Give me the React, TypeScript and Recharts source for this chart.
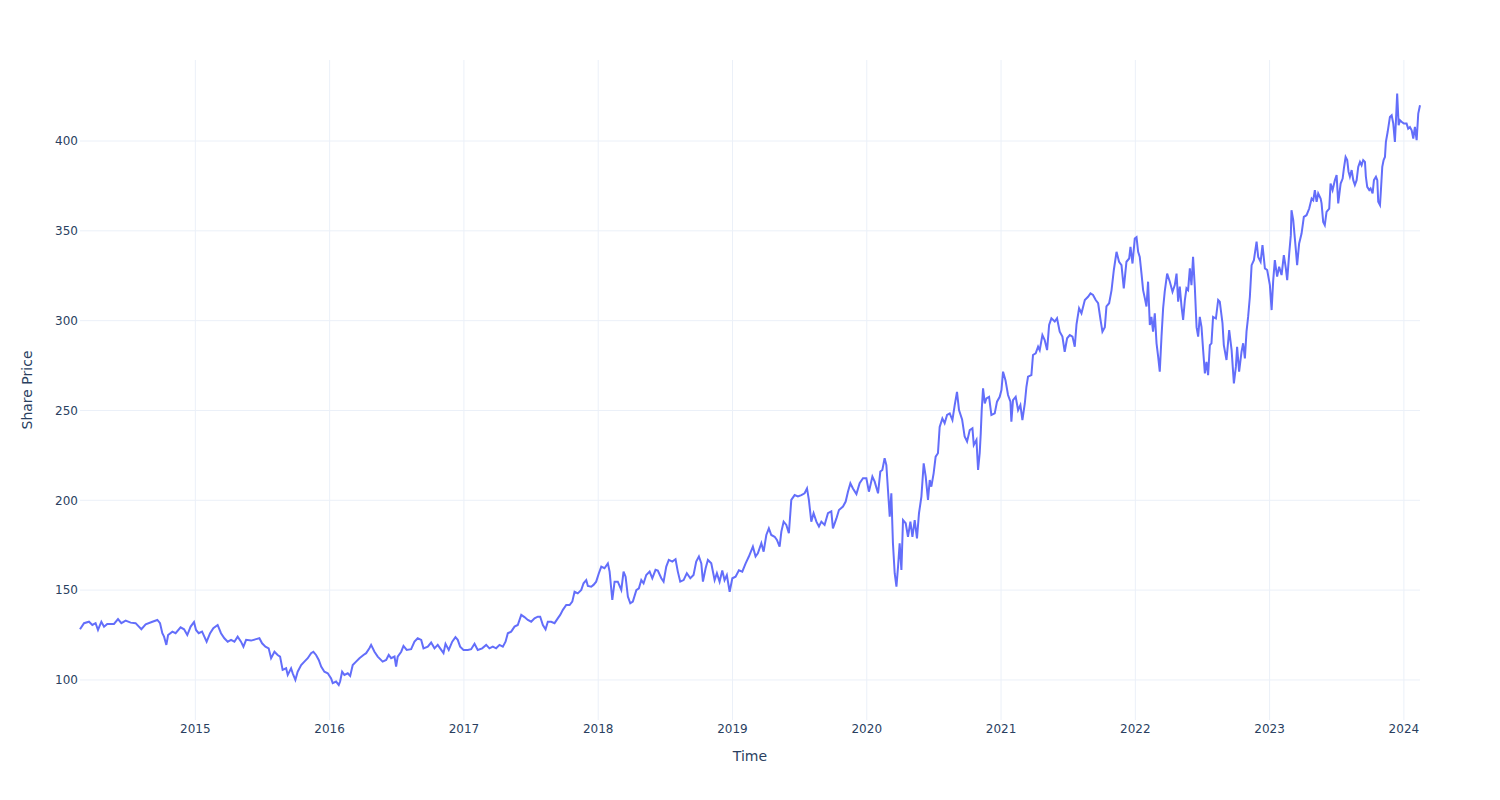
import React from 'react';
import { LineChart, Line, XAxis, YAxis, CartesianGrid, Label } from 'recharts';

// time as decimal year
const timeYears = [
  2014.141, 2014.171, 2014.208, 2014.233, 2014.257, 2014.275, 2014.3, 2014.32, 2014.344, 2014.394,
  2014.424, 2014.449, 2014.481, 2014.518, 2014.555, 2014.598, 2014.63, 2014.68, 2014.717, 2014.737,
  2014.754, 2014.767, 2014.784, 2014.797, 2014.829, 2014.853, 2014.89, 2014.916, 2014.94, 2014.965,
  2014.99, 2015.005, 2015.025, 2015.05, 2015.067, 2015.084, 2015.11, 2015.134, 2015.166, 2015.191,
  2015.216, 2015.241, 2015.266, 2015.291, 2015.315, 2015.34, 2015.358, 2015.378, 2015.415, 2015.452,
  2015.477, 2015.497, 2015.522, 2015.546, 2015.564, 2015.589, 2015.613, 2015.631, 2015.65, 2015.676,
  2015.688, 2015.713, 2015.725, 2015.745, 2015.762, 2015.788, 2015.812, 2015.837, 2015.862, 2015.879,
  2015.899, 2015.919, 2015.937, 2015.961, 2015.986, 2016.011, 2016.023, 2016.048, 2016.068, 2016.078,
  2016.093, 2016.11, 2016.135, 2016.153, 2016.172, 2016.197, 2016.222, 2016.252, 2016.272, 2016.296,
  2016.309, 2016.334, 2016.358, 2016.395, 2016.421, 2016.44, 2016.458, 2016.483, 2016.495, 2016.507,
  2016.533, 2016.55, 2016.574, 2016.607, 2016.632, 2016.656, 2016.682, 2016.699, 2016.731, 2016.756,
  2016.781, 2016.805, 2016.831, 2016.848, 2016.863, 2016.887, 2016.913, 2016.937, 2016.954, 2016.972,
  2016.997, 2017.029, 2017.054, 2017.079, 2017.103, 2017.136, 2017.166, 2017.19, 2017.215, 2017.24,
  2017.265, 2017.29, 2017.31, 2017.327, 2017.352, 2017.377, 2017.401, 2017.427, 2017.451, 2017.476,
  2017.501, 2017.526, 2017.55, 2017.568, 2017.588, 2017.608, 2017.625, 2017.65, 2017.675, 2017.699,
  2017.717, 2017.737, 2017.762, 2017.787, 2017.807, 2017.824, 2017.848, 2017.874, 2017.891, 2017.911,
  2017.923, 2017.948, 2017.965, 2017.985, 2018.005, 2018.023, 2018.047, 2018.072, 2018.085, 2018.105,
  2018.122, 2018.146, 2018.172, 2018.189, 2018.204, 2018.221, 2018.239, 2018.258, 2018.284, 2018.303,
  2018.321, 2018.338, 2018.358, 2018.383, 2018.403, 2018.427, 2018.444, 2018.47, 2018.487, 2018.507,
  2018.526, 2018.552, 2018.576, 2018.593, 2018.611, 2018.636, 2018.66, 2018.686, 2018.71, 2018.73,
  2018.75, 2018.768, 2018.78, 2018.8, 2018.817, 2018.842, 2018.867, 2018.884, 2018.904, 2018.924,
  2018.941, 2018.958, 2018.979, 2018.999, 2019.023, 2019.048, 2019.073, 2019.098, 2019.122, 2019.152,
  2019.172, 2019.189, 2019.215, 2019.232, 2019.252, 2019.271, 2019.289, 2019.314, 2019.331, 2019.351,
  2019.364, 2019.381, 2019.401, 2019.42, 2019.438, 2019.463, 2019.487, 2019.513, 2019.537, 2019.555,
  2019.569, 2019.587, 2019.604, 2019.625, 2019.644, 2019.662, 2019.686, 2019.711, 2019.736, 2019.748,
  2019.774, 2019.793, 2019.823, 2019.843, 2019.86, 2019.878, 2019.897, 2019.923, 2019.947, 2019.972,
  2019.997, 2020.016, 2020.042, 2020.059, 2020.084, 2020.101, 2020.116, 2020.133, 2020.146, 2020.158,
  2020.171, 2020.183, 2020.195, 2020.208, 2020.221, 2020.233, 2020.245, 2020.258, 2020.27, 2020.29,
  2020.307, 2020.325, 2020.34, 2020.357, 2020.374, 2020.389, 2020.407, 2020.424, 2020.439, 2020.456,
  2020.469, 2020.481, 2020.498, 2020.513, 2020.53, 2020.543, 2020.563, 2020.58, 2020.598, 2020.618,
  2020.638, 2020.655, 2020.672, 2020.687, 2020.71, 2020.729, 2020.747, 2020.767, 2020.787, 2020.797,
  2020.817, 2020.829, 2020.841, 2020.849, 2020.856, 2020.866, 2020.879, 2020.891, 2020.911, 2020.928,
  2020.953, 2020.97, 2020.99, 2021.003, 2021.015, 2021.033, 2021.052, 2021.07, 2021.077, 2021.089,
  2021.109, 2021.127, 2021.144, 2021.159, 2021.177, 2021.189, 2021.201, 2021.226, 2021.238, 2021.258,
  2021.276, 2021.288, 2021.308, 2021.325, 2021.343, 2021.358, 2021.375, 2021.4, 2021.417, 2021.437,
  2021.457, 2021.474, 2021.492, 2021.512, 2021.532, 2021.549, 2021.562, 2021.581, 2021.599, 2021.624,
  2021.648, 2021.666, 2021.685, 2021.705, 2021.723, 2021.741, 2021.755, 2021.773, 2021.785, 2021.805,
  2021.823, 2021.84, 2021.86, 2021.879, 2021.897, 2021.914, 2021.934, 2021.954, 2021.964, 2021.979,
  2021.996, 2022.009, 2022.021, 2022.033, 2022.046, 2022.058, 2022.071, 2022.083, 2022.095, 2022.108,
  2022.12, 2022.132, 2022.145, 2022.158, 2022.17, 2022.182, 2022.195, 2022.207, 2022.219, 2022.237,
  2022.257, 2022.277, 2022.294, 2022.307, 2022.319, 2022.331, 2022.344, 2022.356, 2022.369, 2022.381,
  2022.393, 2022.406, 2022.418, 2022.43, 2022.443, 2022.456, 2022.468, 2022.48, 2022.493, 2022.505,
  2022.518, 2022.53, 2022.542, 2022.555, 2022.567, 2022.579, 2022.6, 2022.617, 2022.629, 2022.649,
  2022.659, 2022.679, 2022.699, 2022.717, 2022.734, 2022.749, 2022.758, 2022.773, 2022.791, 2022.803,
  2022.816, 2022.828, 2022.84, 2022.853, 2022.866, 2022.883, 2022.903, 2022.915, 2022.933, 2022.947,
  2022.965, 2022.982, 2023.002, 2023.015, 2023.027, 2023.039, 2023.056, 2023.071, 2023.089, 2023.106,
  2023.121, 2023.131, 2023.146, 2023.158, 2023.163, 2023.176, 2023.196, 2023.205, 2023.22, 2023.238,
  2023.255, 2023.275, 2023.295, 2023.313, 2023.325, 2023.337, 2023.35, 2023.362, 2023.38, 2023.387,
  2023.399, 2023.411, 2023.424, 2023.444, 2023.454, 2023.469, 2023.486, 2023.499, 2023.511, 2023.529,
  2023.544, 2023.553, 2023.566, 2023.578, 2023.588, 2023.598, 2023.611, 2023.623, 2023.635, 2023.648,
  2023.66, 2023.673, 2023.685, 2023.697, 2023.71, 2023.717, 2023.727, 2023.742, 2023.752, 2023.767,
  2023.777, 2023.792, 2023.802, 2023.809, 2023.822, 2023.829, 2023.839, 2023.849, 2023.859, 2023.866,
  2023.879, 2023.896, 2023.909, 2023.921, 2023.933, 2023.941, 2023.95, 2023.961, 2023.97, 2023.985,
  2024.0, 2024.02, 2024.032, 2024.045, 2024.058, 2024.07, 2024.082, 2024.095, 2024.107, 2024.12,
];

const sharePrice = [
  128.2, 131.6, 132.4, 130.6, 131.6, 127.8, 132.4, 129.6, 131.2, 131.2,
  133.9, 131.6, 133.0, 131.9, 131.6, 128.2, 130.9, 132.4, 133.4, 131.6,
  126.0, 124.1, 119.5, 125.0, 126.9, 126.0, 129.3, 128.2, 125.0, 129.7,
  132.2, 127.8, 126.0, 126.9, 124.1, 121.3, 126.0, 128.8, 130.6, 126.0,
  123.2, 121.3, 122.3, 121.3, 124.1, 121.3, 118.5, 122.3, 121.9, 122.7,
  123.2, 120.4, 118.5, 117.6, 112.1, 115.7, 113.9, 113.0, 105.6, 106.5,
  102.8, 106.5, 103.7, 100.0, 104.6, 108.3, 110.2, 112.1, 114.9, 115.7,
  113.9, 111.1, 107.4, 104.6, 103.7, 100.9, 98.2, 99.1, 97.2, 99.1,
  104.6, 102.8, 103.7, 102.2, 108.3, 110.2, 112.1, 113.9, 114.9, 117.6,
  119.5, 115.7, 113.0, 110.2, 111.1, 113.9, 112.1, 113.0, 107.4, 113.0,
  115.7, 118.9, 116.7, 117.1, 121.3, 123.2, 122.3, 117.6, 118.5, 120.8,
  117.6, 119.5, 116.7, 114.9, 120.1, 116.7, 121.3, 123.8, 122.3, 118.5,
  116.7, 116.7, 117.1, 120.1, 116.7, 117.6, 119.5, 117.6, 118.5, 117.6,
  119.5, 118.5, 121.3, 126.0, 126.9, 129.7, 130.6, 136.2, 135.0, 133.4,
  132.4, 134.3, 135.2, 135.2, 130.6, 128.2, 132.4, 132.4, 131.6, 134.3,
  136.2, 139.0, 141.7, 141.7, 143.6, 149.1, 148.2, 150.1, 153.8, 155.6,
  152.3, 151.9, 152.9, 154.7, 159.4, 163.1, 162.2, 164.9, 160.3, 144.5,
  154.7, 154.7, 150.1, 160.3, 157.5, 146.4, 142.7, 143.6, 150.0, 151.0,
  155.6, 153.8, 158.4, 160.3, 156.6, 161.3, 160.9, 156.6, 154.7, 163.1,
  166.8, 165.9, 167.2, 160.3, 154.7, 155.6, 159.4, 156.6, 158.4, 165.9,
  168.7, 164.9, 154.7, 162.2, 166.8, 164.9, 155.6, 159.4, 154.7, 160.9,
  155.6, 158.4, 149.1, 156.6, 157.5, 161.0, 160.3, 164.9, 168.7, 174.2,
  168.7, 170.5, 176.1, 171.4, 180.7, 184.4, 180.7, 179.7, 177.9, 174.2,
  182.6, 188.1, 186.3, 181.7, 200.2, 202.9, 202.1, 202.9, 203.9, 206.6,
  200.2, 188.1, 192.8, 188.1, 185.4, 188.1, 186.3, 192.8, 193.8, 184.4,
  189.9, 194.6, 196.5, 199.3, 204.8, 209.5, 206.6, 203.5, 209.5, 212.3,
  212.3, 204.8, 213.2, 210.4, 203.9, 216.0, 216.9, 223.4, 219.6, 205.7,
  190.9, 203.9, 176.1, 159.4, 151.9, 163.1, 176.1, 161.2, 189.0, 187.2,
  179.7, 188.1, 179.7, 189.0, 178.8, 192.8, 202.1, 220.6, 213.2, 200.2,
  211.3, 207.6, 215.0, 224.3, 226.2, 240.9, 245.6, 242.9, 247.5, 248.4,
  244.7, 253.0, 260.4, 250.2, 245.0, 235.5, 232.7, 239.1, 240.1, 230.8,
  233.6, 216.9, 226.2, 237.4, 250.2, 262.3, 253.9, 256.7, 257.6, 247.5,
  248.4, 254.9, 257.6, 261.4, 271.6, 266.9, 258.6, 254.9, 243.8, 255.8,
  257.6, 250.2, 253.0, 244.7, 253.9, 263.2, 268.8, 269.7, 280.9, 281.8,
  285.5, 283.6, 292.0, 289.2, 283.6, 297.6, 301.3, 299.5, 301.3, 293.9,
  291.1, 282.7, 290.2, 292.0, 291.1, 285.5, 298.0, 306.9, 304.1, 311.5,
  313.3, 315.2, 314.3, 311.5, 309.7, 300.4, 293.9, 296.4, 307.9, 309.7,
  317.0, 328.2, 338.3, 332.8, 330.9, 318.0, 332.8, 334.6, 341.1, 331.8,
  345.7, 346.5, 338.3, 335.5, 326.2, 317.0, 312.4, 307.9, 321.7, 297.6,
  302.1, 293.9, 304.1, 287.4, 280.0, 271.6, 291.1, 306.9, 316.1, 326.2,
  321.7, 316.1, 319.8, 326.2, 310.6, 318.9, 308.0, 300.4, 311.5, 318.0,
  317.0, 329.1, 319.8, 335.5, 318.9, 296.4, 291.1, 302.1, 296.4, 283.6,
  270.6, 277.1, 269.7, 286.4, 287.4, 302.1, 301.2, 311.5, 310.6, 298.7,
  286.4, 278.1, 294.8, 283.6, 265.1, 274.4, 285.5, 271.6, 282.7, 287.4,
  279.0, 293.9, 302.1, 313.3, 330.9, 333.7, 344.0, 335.5, 332.8, 342.1,
  329.1, 328.2, 319.8, 305.9, 322.6, 333.7, 324.5, 330.0, 325.4, 336.5,
  329.1, 322.6, 337.4, 347.6, 361.5, 356.0, 339.0, 330.9, 343.0, 348.5,
  357.8, 358.7, 362.4, 368.0, 367.0, 372.7, 366.2, 370.8, 368.0, 365.3,
  355.0, 353.2, 360.6, 362.4, 376.3, 372.7, 378.2, 381.0, 365.3, 376.3,
  379.1, 384.6, 391.1, 389.4, 382.8, 380.1, 383.8, 378.2, 375.5, 378.2,
  385.6, 388.4, 386.5, 389.4, 388.4, 380.1, 374.5, 372.7, 373.6, 370.8,
  378.2, 380.1, 378.2, 366.2, 364.3, 372.7, 385.6, 389.4, 391.1, 399.5,
  405.0, 413.4, 414.3, 409.7, 399.5, 411.6, 426.4, 408.8, 411.6, 410.6,
  409.7, 409.7, 406.9, 407.8, 406.0, 401.4, 407.8, 400.5, 415.3, 419.9,
];

const yearTicks = [2015, 2016, 2017, 2018, 2019, 2020, 2021, 2022, 2023, 2024];
const priceTicks = [100, 150, 200, 250, 300, 350, 400];

const data = timeYears.map((t, i) => ({ time: t, price: sharePrice[i] }));

const FONT = '"DejaVu Sans", Verdana, sans-serif';
const TEXT = '#2a3f5f';
const GRID = '#EBF0F8';

const App: React.FC = () => {
  return (
    <div style={{ position: 'absolute', left: 0, top: 0, width: 1500, height: 800, background: '#fff' }}>
      <LineChart
        width={1500}
        height={800}
        data={data}
        margin={{ top: 60, right: 80, bottom: 40, left: 20 }}
      >
        {/* grid only at the tick values, no frame round the plot */}
        <CartesianGrid stroke={GRID} strokeWidth={1} syncWithTicks />
        <XAxis
          dataKey="time"
          type="number"
          domain={['dataMin', 'dataMax']}
          ticks={yearTicks}
          tickFormatter={(v: number) => String(v)}
          axisLine={false}
          tickLine={false}
          tickSize={0}
          tickMargin={4}
          height={40}
          tick={{ fill: TEXT, fontSize: 12, fontFamily: FONT }}
        >
          <Label
            content={({ viewBox }: any) => (
              <text
                x={viewBox.x + viewBox.width / 2}
                y={viewBox.y + 36}
                textAnchor="middle"
                dominantBaseline="central"
                fill={TEXT}
                fontSize={14}
                fontFamily={FONT}
              >
                Time
              </text>
            )}
          />
        </XAxis>
        <YAxis
          type="number"
          domain={[77.7, 445.1]}
          ticks={priceTicks}
          allowDataOverflow
          axisLine={false}
          tickLine={false}
          tickSize={0}
          tickMargin={2}
          width={60}
          tick={{ fill: TEXT, fontSize: 12, fontFamily: FONT }}
        >
          <Label
            content={({ viewBox }: any) => {
              const cx = viewBox.x + 7;
              const cy = viewBox.y + viewBox.height / 2;
              return (
                <text
                  x={cx}
                  y={cy}
                  transform={`rotate(-90, ${cx}, ${cy})`}
                  textAnchor="middle"
                  dominantBaseline="central"
                  fill={TEXT}
                  fontSize={14}
                  fontFamily={FONT}
                >
                  Share Price
                </text>
              );
            }}
          />
        </YAxis>
        <Line
          type="linear"
          dataKey="price"
          stroke="#636efa"
          strokeWidth={2}
          dot={false}
          activeDot={false}
          isAnimationActive={false}
        />
      </LineChart>
    </div>
  );
};

export default App;
